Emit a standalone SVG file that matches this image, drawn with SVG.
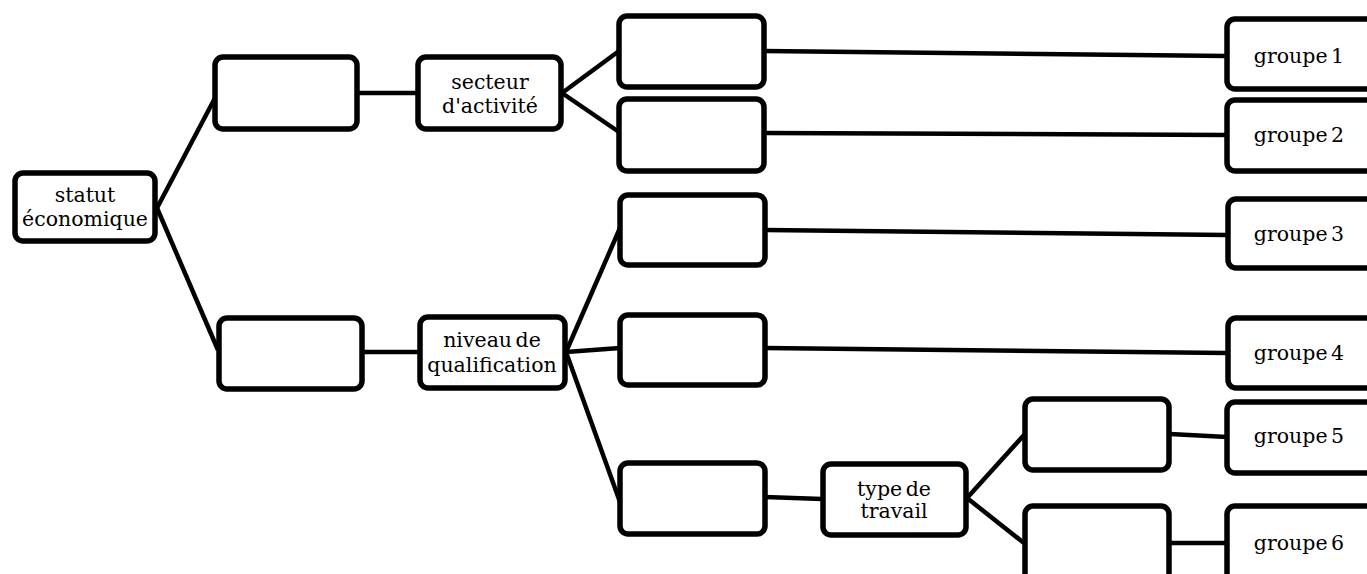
<svg xmlns="http://www.w3.org/2000/svg" width="1367" height="574" viewBox="0 0 1367 574">
<style>
.box{fill:#fff;stroke:#000;stroke-width:5.5}
.ln{stroke:#000;stroke-width:4.5;fill:none}
text{font-family:"DejaVu Serif","Liberation Serif",serif;font-size:20.5px;fill:#000;text-anchor:middle;word-spacing:-3px}
</style>
<rect width="1367" height="574" fill="#fff"/>
<g id="connectors">
<line class="ln" x1="157" y1="208" x2="215" y2="98"/>
<line class="ln" x1="157" y1="208" x2="218" y2="350"/>
<line class="ln" x1="358" y1="93" x2="418" y2="93"/>
<line class="ln" x1="363" y1="352" x2="420" y2="352"/>
<line class="ln" x1="562" y1="93" x2="619" y2="51"/>
<line class="ln" x1="562" y1="93" x2="619" y2="132"/>
<line class="ln" x1="764" y1="51" x2="1227" y2="56"/>
<line class="ln" x1="764" y1="133" x2="1227" y2="135"/>
<line class="ln" x1="566" y1="352" x2="620" y2="228"/>
<line class="ln" x1="566" y1="352" x2="620" y2="348"/>
<line class="ln" x1="566" y1="352" x2="620" y2="502"/>
<line class="ln" x1="765" y1="230" x2="1227" y2="235"/>
<line class="ln" x1="765" y1="348" x2="1227" y2="353"/>
<line class="ln" x1="765" y1="497" x2="822" y2="499"/>
<line class="ln" x1="967" y1="498" x2="1024" y2="435"/>
<line class="ln" x1="967" y1="498" x2="1024" y2="543"/>
<line class="ln" x1="1170" y1="434" x2="1227" y2="437"/>
<line class="ln" x1="1170" y1="543" x2="1227" y2="543"/>
</g>
<g id="statut"><rect class="box" x="15" y="173" width="140" height="68" rx="8"/><text x="85" y="202">statut</text><text x="85" y="226">économique</text></g>
<g id="boxA"><rect class="box" x="215" y="57" width="142" height="72" rx="8"/></g>
<g id="boxB"><rect class="box" x="219" y="318" width="143" height="71" rx="8"/></g>
<g id="secteur"><rect class="box" x="418" y="57" width="143" height="72" rx="8"/><text x="490" y="89">secteur</text><text x="490" y="113">d'activité</text></g>
<g id="niveau"><rect class="box" x="420" y="317" width="145" height="71" rx="8"/><text x="492" y="347">niveau de</text><text x="492" y="372">qualification</text></g>
<g id="c1"><rect class="box" x="619" y="16" width="145" height="71" rx="8"/></g>
<g id="c2"><rect class="box" x="619" y="99" width="145" height="72" rx="8"/></g>
<g id="d1"><rect class="box" x="620" y="195" width="145" height="70" rx="8"/></g>
<g id="d2"><rect class="box" x="620" y="315" width="145" height="70" rx="8"/></g>
<g id="d3"><rect class="box" x="620" y="463" width="145" height="71" rx="8"/></g>
<g id="type"><rect class="box" x="823" y="464" width="143" height="71" rx="8"/><text x="894" y="496">type de</text><text x="894" y="518">travail</text></g>
<g id="e1"><rect class="box" x="1025" y="399" width="144" height="71" rx="8"/></g>
<g id="e2"><rect class="box" x="1025" y="506" width="144" height="80" rx="8"/></g>
<g id="g1"><rect class="box" x="1227" y="19" width="160" height="70" rx="8"/><text x="1299" y="63">groupe 1</text></g>
<g id="g2"><rect class="box" x="1227" y="100" width="160" height="71" rx="8"/><text x="1299" y="142">groupe 2</text></g>
<g id="g3"><rect class="box" x="1228" y="199" width="160" height="69" rx="8"/><text x="1299" y="241">groupe 3</text></g>
<g id="g4"><rect class="box" x="1228" y="318" width="160" height="70" rx="8"/><text x="1299" y="360">groupe 4</text></g>
<g id="g5"><rect class="box" x="1227" y="402" width="160" height="71" rx="8"/><text x="1299" y="443">groupe 5</text></g>
<g id="g6"><rect class="box" x="1227" y="506" width="160" height="80" rx="8"/><text x="1299" y="550">groupe 6</text></g>
</svg>
